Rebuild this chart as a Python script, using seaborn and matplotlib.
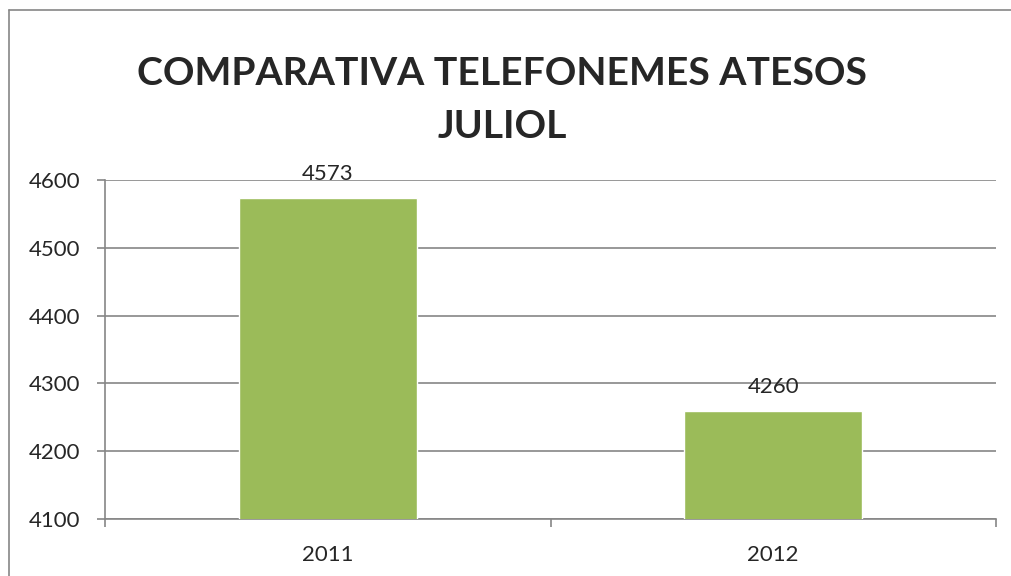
import matplotlib
matplotlib.use("Agg")
import matplotlib.pyplot as plt
import seaborn as sns
import pandas as pd
from matplotlib.lines import Line2D

years = ["2011", "2012"]
calls = [4573, 4260]
title = "COMPARATIVA TELEFONEMES ATESOS\nJULIOL"

sns.set_style("white")
plt.rcParams["font.family"] = ["Lato", "DejaVu Sans"]

df = pd.DataFrame({"year": years, "calls": calls})
grey = "#868686"

fig = plt.figure(figsize=(10.11, 5.76), dpi=100)
ax = fig.add_axes([105 / 1011, 1 - 519 / 576, 891 / 1011, 339 / 576])

sns.barplot(data=df, x="year", y="calls", color="#9BBB59", width=0.4,
            saturation=1, ax=ax, zorder=3)

ax.set_ylim(4100, 4600)
ax.set_xlim(-0.5, 1.5)
ax.set_yticks(range(4100, 4601, 100))
ax.yaxis.grid(True, color=grey, linewidth=1.2, zorder=0)
ax.set_axisbelow(True)

for i, v in enumerate(calls):
    ax.annotate(str(v), (i, v), xytext=(0, 10), textcoords="offset points",
                ha="center", va="bottom", fontsize=16)

ax.set_xticks([0, 1])
ax.set_xticks([-0.5, 0.5, 1.5], minor=True)
ax.tick_params(axis="x", which="major", length=0, pad=19, labelsize=16)
ax.tick_params(axis="x", which="minor", length=6, width=1.2, color=grey,
               direction="out", bottom=True)
ax.tick_params(axis="y", length=6, width=1.2, color=grey, direction="out",
               left=True, labelsize=16, pad=12)
ax.set_xlabel("")
ax.set_ylabel("")

for s in ["top", "right"]:
    ax.spines[s].set_visible(False)
for s in ["left", "bottom"]:
    ax.spines[s].set_color(grey)
    ax.spines[s].set_linewidth(1.2)

fig.text(502 / 1011, 1 - 100 / 576, title, ha="center", va="center",
         fontsize=28.2, fontweight="bold", linespacing=1.65)

# chart-area border (left and top edges visible in the picture)
bx, by = 8.5 / 1011, 1 - 9.5 / 576
fig.add_artist(Line2D([bx, bx], [0, by], transform=fig.transFigure,
                      color=grey, linewidth=1.2))
fig.add_artist(Line2D([bx, 1], [by, by], transform=fig.transFigure,
                      color=grey, linewidth=1.2))

fig.savefig("out.png", dpi=100)
